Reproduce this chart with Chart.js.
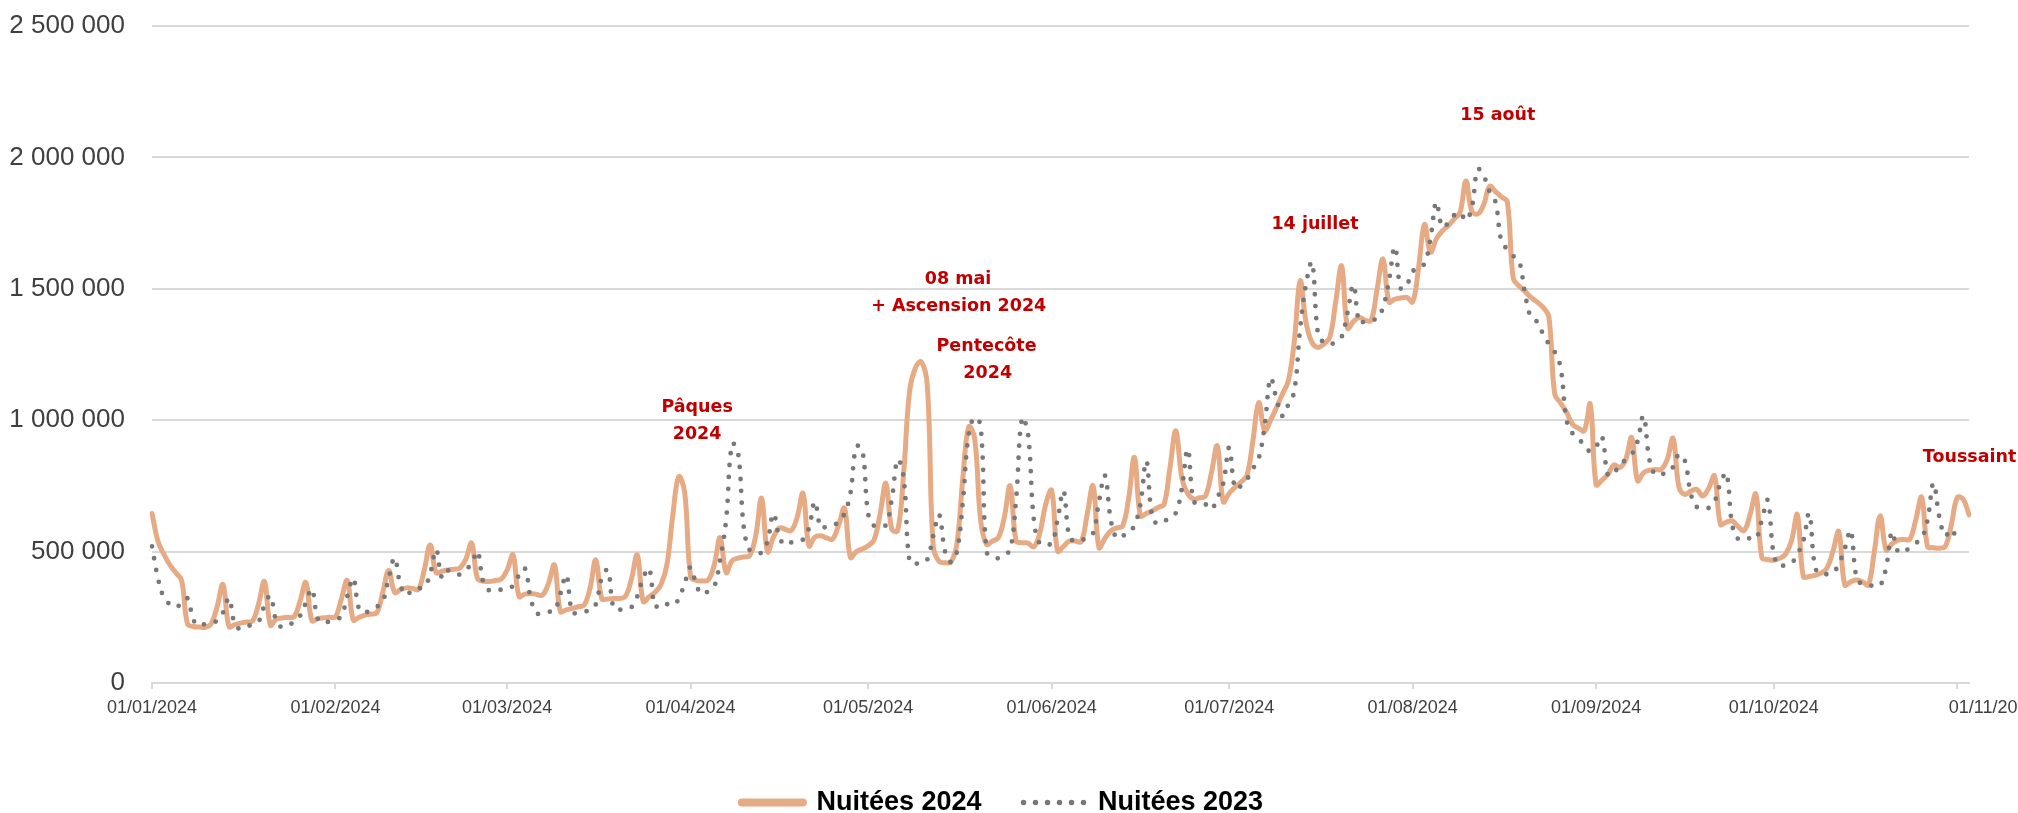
<!DOCTYPE html>
<html><head><meta charset="utf-8">
<script src="https://cdn.jsdelivr.net/npm/chart.js@4"></script>
<style>html,body{margin:0;padding:0;background:#fff;overflow:hidden}#wrap{width:2018px;height:813px;position:relative}</style>
</head><body><div id="wrap"><canvas id="c"></canvas></div>
<script>
const seriesNames = ["Nuitées 2024", "Nuitées 2023"];
const monthTicks = ["01/01/2024","01/02/2024","01/03/2024","01/04/2024","01/05/2024","01/06/2024","01/07/2024","01/08/2024","01/09/2024","01/10/2024","01/11/2024"];
const yTicks = [0, 500000, 1000000, 1500000, 2000000, 2500000];

const nuitees2024 = [
645000,540000,490000,450000,420000,390000,225000,
215000,213000,212000,225000,290000,375000,215000,
222000,228000,232000,236000,300000,386000,220000,
243000,247000,250000,252000,310000,382000,238000,
245000,248000,250000,252000,320000,390000,240000,
250000,258000,262000,268000,345000,428000,345000,
355000,362000,360000,356000,430000,525000,420000,
425000,430000,433000,437000,470000,532000,398000,
388000,386000,390000,395000,430000,487000,330000,
338000,341000,337000,335000,380000,449000,272000,
278000,284000,290000,296000,360000,468000,320000,
320000,322000,322000,330000,395000,487000,310000,
328000,345000,375000,450000,640000,785000,725000,
405000,390000,388000,392000,450000,553000,420000,
465000,475000,480000,485000,560000,703000,500000,
555000,590000,585000,580000,630000,721000,522000,
555000,560000,552000,548000,600000,665000,478000,
500000,510000,522000,545000,640000,760000,585000,
580000,800000,1110000,1200000,1222000,1130000,520000,
462000,458000,460000,530000,780000,975000,930000,
620000,528000,540000,553000,630000,750000,540000,
534000,532000,518000,570000,680000,733000,502000,
520000,540000,540000,538000,640000,750000,515000,
550000,579000,590000,598000,700000,858000,636000,
645000,655000,668000,680000,820000,959000,780000,
720000,700000,705000,712000,800000,902000,690000,
722000,745000,765000,790000,920000,1067000,960000,
1000000,1048000,1100000,1150000,1300000,1530000,1370000,
1295000,1277000,1290000,1315000,1450000,1587000,1350000,
1375000,1391000,1380000,1380000,1500000,1613000,1450000,
1461000,1465000,1467000,1450000,1580000,1745000,1640000,
1690000,1720000,1740000,1765000,1790000,1910000,1795000,
1785000,1820000,1890000,1870000,1850000,1830000,1540000,
1510000,1490000,1467000,1450000,1430000,1395000,1100000,
1065000,1030000,985000,970000,960000,1061000,755000,
772000,794000,830000,820000,850000,934000,770000,
800000,810000,812000,813000,850000,931000,745000,
718000,730000,737000,712000,740000,788000,604000,
612000,617000,595000,580000,640000,718000,477000,
470000,467000,475000,490000,540000,640000,405000,
405000,410000,418000,437000,500000,576000,373000,
385000,392000,385000,373000,500000,636000,506000,
530000,544000,546000,547000,620000,707000,519000,
515000,513000,520000,600000,705000,700000,640000];

const nuitees2023 = [
520000,400000,325000,300000,287000,305000,322000,
240000,218000,225000,230000,237000,268000,322000,
222000,205000,215000,223000,233000,295000,331000,
235000,212000,222000,231000,255000,305000,357000,
245000,228000,235000,240000,255000,330000,398000,
280000,268000,280000,290000,310000,400000,475000,
370000,335000,355000,360000,365000,415000,508000,
400000,428000,420000,413000,430000,455000,500000,
380000,352000,354000,355000,357000,370000,410000,
437000,320000,265000,268000,271000,275000,340000,
410000,268000,268000,272000,277000,300000,400000,
430000,285000,279000,283000,288000,330000,400000,
435000,290000,305000,300000,296000,320000,380000,
440000,370000,338000,350000,367000,470000,620000,
910000,880000,590000,505000,500000,496000,540000,
645000,555000,525000,535000,540000,546000,590000,
690000,590000,596000,603000,610000,645000,720000,
900000,890000,645000,598000,600000,601000,700000,
850000,780000,460000,455000,456000,470000,560000,
640000,500000,460000,500000,690000,950000,1010000,
980000,500000,480000,475000,490000,505000,700000,
1008000,950000,620000,530000,530000,530000,620000,
731000,554000,540000,540000,560000,570000,690000,
790000,620000,551000,560000,572000,600000,680000,
845000,630000,605000,615000,630000,648000,740000,
890000,690000,690000,680000,661000,705000,760000,
895000,740000,750000,775000,815000,855000,980000,
1160000,1080000,1016000,1060000,1110000,1350000,1520000,
1600000,1330000,1295000,1287000,1300000,1317000,1410000,
1515000,1370000,1378000,1382000,1387000,1430000,1530000,
1660000,1500000,1515000,1565000,1585000,1595000,1690000,
1830000,1735000,1750000,1780000,1790000,1760000,1810000,
1955000,1930000,1870000,1830000,1680000,1650000,1625000,
1605000,1480000,1390000,1375000,1330000,1290000,1260000,
1200000,1000000,950000,930000,905000,881000,900000,
937000,790000,800000,830000,850000,870000,920000,
1016000,850000,792000,795000,800000,822000,870000,
845000,720000,670000,668000,666000,690000,760000,
798000,600000,548000,553000,550000,549000,620000,
695000,490000,445000,450000,456000,490000,540000,
645000,440000,414000,414000,418000,453000,510000,
580000,400000,375000,371000,371000,371000,440000,
575000,500000,500000,515000,532000,550000,620000,
760000,630000,560000,585000,540000];

// Annotation texts, anchored in data coordinates (day index, value)
const annotTexts = ["Pâques", "2024", "08 mai", "+ Ascension 2024", "Pentecôte", "2024", "14 juillet", "15 août", "Toussaint"];
const annotDay = [92.1, 92.1, 136.2, 136.3, 141.0, 141.2, 196.5, 227.4, 299.2];
const annotValue = [1047000, 944000, 1535000, 1432000, 1281000, 1178000, 1745000, 2159000, 857000];
const annotAlign = ["center","center","center","center","center","center","center","center","left"];

// Daily category labels (01/01/2024 ... 03/11/2024)
const nDays = nuitees2024.length;
const dayLabels = [];
for (let i = 0; i < nDays; i++) {
  const d = new Date(Date.UTC(2024, 0, 1 + i));
  const dd = String(d.getUTCDate()).padStart(2, "0");
  const mm = String(d.getUTCMonth() + 1).padStart(2, "0");
  dayLabels.push(dd + "/" + mm + "/" + d.getUTCFullYear());
}

const c2024 = "#E6AA84";
const c2023 = "#787878";
const lastLabelShift = 36; // the last date label runs off the right edge, as in the source

const fmt = v => String(v).replace(/\B(?=(\d{3})+(?!\d))/g, " ");

const annotPlugin = {
  id: "annots",
  beforeDraw(chart) {
    const items = chart.scales.x.getLabelItems(chart.chartArea);
    const last = items[items.length - 1];
    if (last && !last._shifted) { last.options.translation[0] += lastLabelShift; last._shifted = true; }
  },
  afterDatasetsDraw(chart) {
    const {ctx, scales: {x, y}} = chart;
    ctx.save();
    ctx.fillStyle = "#C00000";
    ctx.font = 'bold 17.5px "DejaVu Sans"';
    ctx.textBaseline = "middle";
    for (let i = 0; i < annotTexts.length; i++) {
      ctx.textAlign = annotAlign[i];
      ctx.fillText(annotTexts[i], x.getPixelForValue(annotDay[i]), y.getPixelForValue(annotValue[i]));
    }
    ctx.restore();
  }
};

new Chart(document.getElementById("c"), {
  type: "line",
  data: {
    labels: dayLabels,
    datasets: [
      { label: seriesNames[0], data: nuitees2024, borderColor: c2024, backgroundColor: c2024,
        borderWidth: 5, pointRadius: 0, tension: 0.4, borderCapStyle: "round", borderJoinStyle: "round", fill: false, order: 1 },
      { label: seriesNames[1], data: nuitees2023, borderColor: c2023, backgroundColor: c2023,
        borderWidth: 4.8, borderDash: [0, 12], borderCapStyle: "round", pointRadius: 0, tension: 0.4, fill: false, order: 0 }
    ]
  },
  options: {
    responsive: true, maintainAspectRatio: false, animation: false, devicePixelRatio: 1,
    layout: { padding: { left: 0, right: 13, top: 26, bottom: -13 } },
    plugins: {
      tooltip: { enabled: false },
      legend: {
        position: "bottom", align: "center",
        labels: {
          usePointStyle: true, pointStyleWidth: 61, boxHeight: 10, padding: 42, color: "#000",
          font: { family: "Liberation Sans", size: 27, weight: "bold" },
          generateLabels: () => [
            { text: seriesNames[0], fillStyle: c2024, strokeStyle: c2024, lineWidth: 8, lineCap: "round", lineDash: [], pointStyle: "line", datasetIndex: 0, hidden: false, fontColor: "#000" },
            { text: seriesNames[1], fillStyle: c2023, strokeStyle: c2023, lineWidth: 5.5, lineCap: "round", lineDash: [0, 12], pointStyle: "line", datasetIndex: 1, hidden: false, fontColor: "#000" }
          ]
        }
      }
    },
    scales: {
      x: {
        type: "category",
        grid: { drawOnChartArea: false, color: "#D9D9D9", lineWidth: 2, tickLength: 6 },
        border: { color: "#D9D9D9", width: 2 },
        ticks: { autoSkip: false, maxRotation: 0, minRotation: 0, color: "#404040", padding: 8,
                 font: { family: "Liberation Sans", size: 18 } },
        afterBuildTicks: s => { s.ticks = s.ticks.filter(t => monthTicks.includes(dayLabels[t.value])); },
        afterFit: s => { s.height = 64; }
      },
      y: {
        min: 0, max: 2500000,
        grid: { color: "#D9D9D9", lineWidth: 2, drawTicks: true, tickLength: 22, tickColor: "rgba(0,0,0,0)" },
        border: { display: false },
        ticks: { padding: 5, color: "#404040", font: { family: "Liberation Sans", size: 26 }, callback: v => fmt(v) },
        afterBuildTicks: s => { s.ticks = yTicks.map(v => ({ value: v })); },
        afterFit: s => { s.width = 152; }
      },
      yR: {
        position: "right", display: true,
        grid: { display: false }, border: { display: false }, ticks: { display: false },
        afterFit: s => { s.width = 36; }
      }
    }
  },
  plugins: [annotPlugin]
});
</script></body></html>
